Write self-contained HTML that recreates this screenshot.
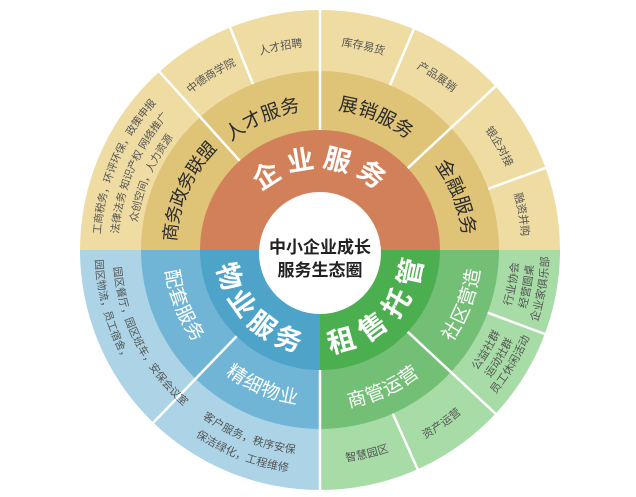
<!DOCTYPE html>
<html><head><meta charset="utf-8"><style>
html,body{margin:0;padding:0;background:#fff;}
svg{display:block;}
text{font-family:"Liberation Sans","Noto Sans CJK SC",sans-serif;}
</style></head><body>
<svg width="636" height="497" viewBox="0 0 636 497" xmlns="http://www.w3.org/2000/svg">
<defs>
<path id="p1" d="M241.2,204.5 A91,91 0 0 1 398.8,204.5"/>
<path id="p2" d="M198.6,338.2 A150,150 0 0 1 304.3,100.8"/>
<path id="p3" d="M174.9,233.5 A146,146 0 0 1 406.8,132.6"/>
<path id="p4" d="M231.5,132.6 A147,147 0 0 1 465.9,232.1"/>
<path id="p5" d="M343.3,102.8 A149,149 0 0 1 435.8,343.8"/>
<path id="p6" d="M124.3,182.6 A207,207 0 0 1 476.2,114.2"/>
<path id="p7" d="M114.1,257.2 A206,206 0 0 1 416.7,68.1"/>
<path id="p8" d="M165.4,110.8 A208,208 0 0 1 517.8,185.7"/>
<path id="p9" d="M228.4,62.2 A209,209 0 0 1 528.5,264.6"/>
<path id="p10" d="M320,43 A207,207 0 0 1 499.3,353.5"/>
<path id="p11" d="M390.1,57.4 A205,205 0 0 1 451.8,407.0"/>
<path id="p12a" d="M141.9,384.2 A223,223 0 0 1 292.8,28.7"/>
<path id="p12b" d="M156.3,373.4 A205,205 0 0 1 295.0,46.5"/>
<path id="p12c" d="M169.9,363.1 A188,188 0 0 1 297.1,63.4"/>
<path id="p13" d="M229.2,222.2 A95,95 0 0 0 341.4,342.6"/>
<path id="p14" d="M296.7,340.0 A93,93 0 0 0 409.6,225.2"/>
<path id="p15" d="M201.8,157.6 A150,150 0 0 0 299.1,398.5"/>
<path id="p16" d="M171.1,268.3 A150,150 0 0 0 410.3,369.8"/>
<path id="p17" d="M230.6,375.4 A154,154 0 0 0 473.3,264.8"/>
<path id="p18" d="M344.2,403.1 A155,155 0 0 0 440.5,152.5"/>
<path id="p19" d="M120.5,281.6 A202,202 0 0 0 447.1,407.0"/>
<path id="p20" d="M101.7,284.6 A221,221 0 0 0 459.1,421.7"/>
<path id="p21" d="M166.4,393.2 A210,210 0 0 0 520.8,311.4"/>
<path id="p22" d="M230.0,443.0 A213,213 0 0 0 532.2,231.4"/>
<path id="p23a" d="M316.6,445.0 A195,195 0 0 0 490.5,155.5"/>
<path id="p23b" d="M316.3,460.0 A210,210 0 0 0 503.7,148.2"/>
<path id="p23c" d="M316.1,474.0 A224,224 0 0 0 515.9,141.4"/>
<path id="p24a" d="M387.0,434.2 A196,196 0 0 0 446.0,99.9"/>
<path id="p24b" d="M392.2,448.3 A211,211 0 0 0 455.6,88.4"/>
<path id="p24c" d="M397.3,462.4 A226,226 0 0 0 465.3,76.9"/>
<path id="p25a" d="M145.1,113.3 A222,222 0 0 0 289.1,469.8"/>
<path id="p25b" d="M159.2,124.4 A204,204 0 0 0 291.6,452.0"/>
</defs>

<path d="M80,250 A240,240 0 0 1 560,250 Z" fill="#efdca3"/>
<path d="M141,250 A179,179 0 0 1 499,250 Z" fill="#dfc377"/>
<path d="M200,250 A120,120 0 0 1 440,250 Z" fill="#d2805a"/>
<path d="M320,250 L80,250 A240,240 0 0 0 320,490 Z" fill="#acd4e6"/>
<path d="M320,250 L141,250 A179,179 0 0 0 320,429 Z" fill="#70b5d6"/>
<path d="M320,250 L200,250 A120,120 0 0 0 320,370 Z" fill="#4ea3c9"/>
<path d="M320,250 L320,490 A240,240 0 0 0 560,250 Z" fill="#a7dca6"/>
<path d="M320,250 L320,429 A179,179 0 0 0 499,250 Z" fill="#73bf75"/>
<path d="M320,250 L320,370 A120,120 0 0 0 440,250 Z" fill="#4caf4f"/>

<g stroke="#fff" stroke-width="2.5">
<line x1="239.7" y1="160.8" x2="159.4" y2="71.7"/>
<line x1="320" y1="130" x2="320" y2="10"/>
<line x1="407.7" y1="168.2" x2="495.5" y2="86.3"/>
<line x1="252.9" y1="84.0" x2="230.1" y2="27.5"/>
<line x1="390.0" y1="85.2" x2="413.8" y2="29.1"/>
<line x1="488.2" y1="188.8" x2="545.5" y2="167.9"/>
<line x1="236.6" y1="336.3" x2="153.3" y2="422.6"/>
<line x1="320" y1="370" x2="320" y2="490"/>
<line x1="407.7" y1="331.8" x2="495.5" y2="413.7"/>
<line x1="487.7" y1="312.7" x2="544.8" y2="334.0"/>
<line x1="392.8" y1="413.6" x2="417.6" y2="469.3"/>
</g>

<circle cx="320" cy="253" r="61" fill="#fff"/>
<text x="320" y="253" text-anchor="middle" font-size="17" font-weight="bold" fill="#222">中小企业成长</text>
<text x="320" y="276" text-anchor="middle" font-size="17" font-weight="bold" fill="#222">服务生态圈</text>

<g dominant-baseline="central" text-anchor="middle">
<text font-size="27" font-weight="bold" fill="#fff" letter-spacing="10"><textPath href="#p1" startOffset="52%">企业服务</textPath></text>
<text font-size="27" font-weight="bold" fill="#fff" letter-spacing="3"><textPath href="#p13" startOffset="51%">物业服务</textPath></text>
<text font-size="28" font-weight="bold" fill="#fff" letter-spacing="6"><textPath href="#p14" startOffset="51%">租售托管</textPath></text>

<g font-size="19" fill="#2b2b2b">
<text font-size="18"><textPath href="#p2" startOffset="50%">商务政务联盟</textPath></text>
<text letter-spacing="1"><textPath href="#p3" startOffset="50%">人才服务</textPath></text>
<text letter-spacing="1"><textPath href="#p4" startOffset="50%">展销服务</textPath></text>
<text letter-spacing="1"><textPath href="#p5" startOffset="50%">金融服务</textPath></text>
</g>
<g font-size="19" fill="#fff">
<text><textPath href="#p15" startOffset="50%">配套服务</textPath></text>
<text><textPath href="#p16" startOffset="50%">精细物业</textPath></text>
<text><textPath href="#p17" startOffset="50%">商管运营</textPath></text>
<text><textPath href="#p18" startOffset="50%">社区营造</textPath></text>
</g>
<g font-size="11" fill="#555">
<text><textPath href="#p6" startOffset="50%">人才招聘</textPath></text>
<text><textPath href="#p7" startOffset="50%">中德商学院</textPath></text>
<text><textPath href="#p8" startOffset="50%">库存易货</textPath></text>
<text><textPath href="#p9" startOffset="50%">产品展销</textPath></text>
<text><textPath href="#p10" startOffset="50%">银企对接</textPath></text>
<text><textPath href="#p11" startOffset="50%">融资并购</textPath></text>
<text font-size="10.5"><textPath href="#p12a" startOffset="50%">工商税务，环评环保，政策申报</textPath></text>
<text font-size="10.5"><textPath href="#p12b" startOffset="50%">法律法务 知识产权 网络推广</textPath></text>
<text font-size="10.5"><textPath href="#p12c" startOffset="50%">众创空间，人力资源</textPath></text>
<text><textPath href="#p19" startOffset="50%">客户服务，秩序安保</textPath></text>
<text><textPath href="#p20" startOffset="50%">保洁绿化，工程维修</textPath></text>
<text><textPath href="#p21" startOffset="50%">智慧园区</textPath></text>
<text><textPath href="#p22" startOffset="50%">资产运营</textPath></text>
<text><textPath href="#p23a" startOffset="50%">公益社群</textPath></text>
<text><textPath href="#p23b" startOffset="50%">运动社群</textPath></text>
<text><textPath href="#p23c" startOffset="50%">员工休闲活动</textPath></text>
<text><textPath href="#p24a" startOffset="50%">行业协会</textPath></text>
<text><textPath href="#p24b" startOffset="50%">经营圆桌</textPath></text>
<text><textPath href="#p24c" startOffset="50%">企业家俱乐部</textPath></text>
<text font-size="10.5"><textPath href="#p25a" startOffset="45%">园区物流，员工宿舍，</textPath></text>
<text font-size="10.5"><textPath href="#p25b" startOffset="54%">园区餐厅，园区班车，安保会议室</textPath></text>
</g>
</g>
</svg>
</body></html>
